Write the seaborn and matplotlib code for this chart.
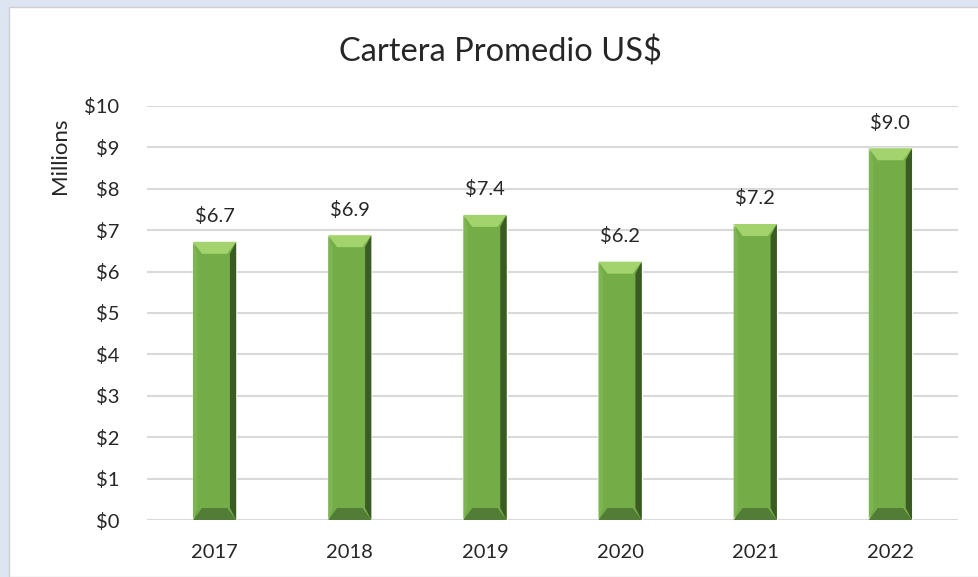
import matplotlib
matplotlib.use("Agg")
import matplotlib.pyplot as plt
from matplotlib.patches import Polygon, Rectangle
import seaborn as sns
import pandas as pd

years = ["2017", "2018", "2019", "2020", "2021", "2022"]
cartera = [6.72, 6.88, 7.37, 6.24, 7.15, 8.98]
labels = ["$6.7", "$6.9", "$7.4", "$6.2", "$7.2", "$9.0"]
yticks = [0, 1, 2, 3, 4, 5, 6, 7, 8, 9, 10]

df = pd.DataFrame({"year": years, "value": cartera})

sns.set_style("white")
plt.rcParams["font.family"] = ["Lato", "DejaVu Sans"]

fig = plt.figure(figsize=(9.79, 5.77), dpi=100, facecolor="#dde4f2")
# white chart panel, kept behind the axes
fig.patches.append(Rectangle((9 / 979, 0), 1, 1 - 7 / 577, transform=fig.transFigure,
                             facecolor="white", edgecolor="#d0d0d0", lw=1, zorder=-10))

ax = fig.add_axes([147 / 979, 1 - 520 / 577, 811 / 979, 414 / 577])
ax.set_facecolor("none")
sns.barplot(data=df, x="year", y="value", color="#74ad48", saturation=1,
            width=0.32, ax=ax, zorder=3)

ax.set_ylim(0, 10)
ax.set_yticks(yticks)
ax.set_yticklabels(["$" + str(t) for t in yticks], fontsize=14.5)
ax.tick_params(axis="y", length=0, pad=20)
ax.tick_params(axis="x", length=0, pad=17, labelsize=14.5)
ax.grid(axis="y", color="#d9d9d9", lw=1.5, zorder=0)
ax.set_axisbelow(True)
ax.set_xlabel("")
ax.set_ylabel("")
for s in ax.spines.values():
    s.set_visible(False)

# bevel look on each bar, using the bar geometry from the axes
px_x = 6 / 811  # data units per pixel along x (6 categories over 811 px)
px_y = 10 / 414
dx = 9 * px_x
dy = 12 * px_y
for p, lab in zip(ax.patches, labels):
    x0 = p.get_x()
    w = p.get_width()
    h = p.get_height()
    x1 = x0 + w
    # top light facet
    ax.add_patch(Polygon([(x0, h), (x1, h), (x1 - dx, h - dy), (x0 + dx, h - dy)],
                         closed=True, facecolor="#a3d36c", edgecolor="none", zorder=4))
    # right dark facet
    ax.add_patch(Polygon([(x1, h), (x1, 0), (x1 - dx * 0.7, dy), (x1 - dx * 0.7, h - dy)],
                         closed=True, facecolor="#3a5c24", edgecolor="none", zorder=4))
    # left slightly lighter facet
    ax.add_patch(Polygon([(x0, h), (x0, 0), (x0 + dx * 0.5, dy), (x0 + dx * 0.5, h - dy)],
                         closed=True, facecolor="#7db552", edgecolor="none", zorder=4))
    # bottom darker facet
    ax.add_patch(Polygon([(x0, 0), (x1, 0), (x1 - dx, dy), (x0 + dx, dy)],
                         closed=True, facecolor="#517d37", edgecolor="none", zorder=4))
    ax.text(x0 + w / 2, h + 0.4, lab, ha="center", va="bottom", fontsize=14.5, zorder=5)

fig.text(500 / 979, 1 - 52 / 577, "Cartera Promedio US$", ha="center", va="center", fontsize=23.5)
fig.text(60 / 979, 1 - 156 / 577, "Millions", ha="center", va="center", rotation=90, fontsize=16)

fig.savefig("out.png", dpi=100, facecolor=fig.get_facecolor())
